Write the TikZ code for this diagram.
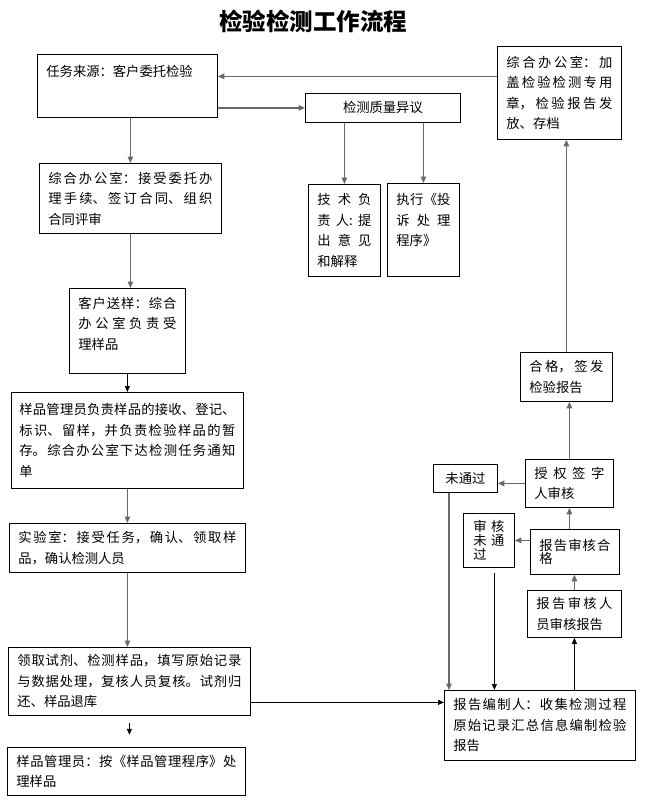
\documentclass[tikz,border=0pt]{standalone}
\usepackage{fontspec}
\setmainfont{Noto Sans CJK SC}
\usetikzlibrary{arrows.meta}
\XeTeXlinebreaklocale "zh"
\XeTeXlinebreakskip=0pt plus 1fil
\definecolor{linegray}{RGB}{105,105,105}
\tikzset{
  flowbox/.style={draw, line width=0.8pt, anchor=north west, inner xsep=9pt, inner ysep=0pt,
    align=justify, font=\fontsize{13.3}{20.5}\selectfont},
  tightbox/.style={flowbox, font=\fontsize{13.3}{13.8}\selectfont},
  arr/.style={draw=linegray, line width=1.3pt, -{Triangle[length=6.5pt,width=5.5pt]}},
  thinarr/.style={draw=black, line width=0.7pt, -{Triangle[length=6pt,width=5pt]}}
}
\newcommand{\toptext}[3]{\vbox to #1{\vskip #2\noindent #3\vfil}}
\newcommand{\ragend}{\hfill\mbox{}}

\begin{document}
\begin{tikzpicture}[x=1pt,y=-1pt]
   \useasboundingbox (0,0) rectangle (653,808);
   \node[font=\fontsize{23.5}{26}\selectfont\bfseries] (title) at (313,21) {检验检测工作流程};

   % left column
   \node[flowbox, minimum width=180pt, minimum height=63pt, text width=162pt] (src) at (37,54)
     {\toptext{63pt}{11pt}{任务来源：客户委托检验\ragend}};
   \node[flowbox, minimum width=182pt, minimum height=70pt, text width=164pt] (accept) at (39,163)
     {综合办公室：接受委托办\linebreak 理手续、签订合同、组织\linebreak 合同评审\ragend};
   \node[flowbox, minimum width=116pt, minimum height=85pt, text width=98pt] (sample) at (69,288)
     {\toptext{85pt}{8.5pt}{客户送样：综合\linebreak 办公室负责受\linebreak 理样品\ragend}};
   \node[flowbox, inner xsep=8pt, minimum width=232pt, minimum height=96pt, text width=216pt] (store) at (11,392)
     {样品管理员负责样品的接收、登记、\linebreak 标识、留样，并负责检验样品的暂\linebreak 存。综合办公室下达检测任务通知\linebreak 单\ragend};
   \node[flowbox, minimum width=236pt, minimum height=49pt, text width=218pt] (lab) at (9,523)
     {实验室：接受任务，确认、领取样\linebreak 品，确认检测人员\ragend};
   \node[flowbox, minimum width=242pt, minimum height=68pt, text width=224pt] (reagent) at (8,647)
     {领取试剂、检测样品，填写原始记录\linebreak 与数据处理，复核人员复核。试剂归\linebreak 还、样品退库\ragend};
   \node[flowbox, minimum width=238pt, minimum height=48pt, text width=220pt] (manage) at (7,747)
     {样品管理员：按《样品管理程序》处\linebreak 理样品\ragend};

   % middle
   \node[flowbox, align=center, minimum width=155pt, minimum height=29pt] (dispute) at (305,93) {检测质量异议};
   \node[flowbox, minimum width=72pt, minimum height=92pt, text width=54pt] (tech) at (308,184)
     {技术负\linebreak 责人:提\linebreak 出意见\linebreak 和解释\ragend};
   \node[flowbox, minimum width=72pt, minimum height=93pt, text width=54pt] (proc) at (387,183)
     {\toptext{93pt}{10pt}{执行《投\linebreak 诉处理\linebreak 程序》\ragend}};

   % right column
   \node[flowbox, minimum width=124pt, minimum height=93pt, text width=106pt] (archive) at (497,46)
     {综合办公室：加\linebreak 盖检验检测专用\linebreak 章，检验报告发\linebreak 放、存档\ragend};
   \node[flowbox, minimum width=92pt, minimum height=49pt, text width=74pt] (ok) at (520,352)
     {合格，签发\linebreak 检验报告\ragend};
   \node[flowbox, minimum width=88pt, minimum height=48pt, text width=70pt] (sign) at (525,459)
     {授权签字\linebreak 人审核\ragend};
   \node[flowbox, align=center, minimum width=64pt, minimum height=28pt] (fail2) at (433,464) {未通过};
   \node[tightbox, minimum width=89pt, minimum height=45pt, text width=71pt] (pass) at (530,529)
     {报告审核合\linebreak 格\ragend};
   \node[tightbox, inner xsep=10pt, minimum width=51pt, minimum height=54pt, text width=31pt] (fail1) at (463,513)
     {审核\linebreak 未通\linebreak 过\ragend};
   \node[flowbox, minimum width=94pt, minimum height=47pt, text width=76pt] (review) at (527,590)
     {报告审核人\linebreak 员审核报告\ragend};
   \node[flowbox, minimum width=191pt, minimum height=70pt, text width=173pt] (compile) at (444,690)
     {报告编制人：收集检测过程\linebreak 原始记录汇总信息编制检验\linebreak 报告\ragend};

   \coordinate (q1) at ([xshift=16pt]fail2.south west);
   \coordinate (o1) at ([xshift=5.5pt,yshift=-5pt]fail1.south);

   % connectors
   \draw[arr] ([yshift=16.5pt]archive.west) -- ([yshift=16.5pt]archive.west -| src.east);
   \draw[arr] (src.east |- dispute.west) -- (dispute.west);
   \draw[arr] (accept.north |- src.south) -- (accept.north);
   \draw[arr] (dispute.south -| tech.north) -- (tech.north);
   \draw[arr] (dispute.south -| proc.north) -- (proc.north);
   \draw[arr] (accept.south) -- (accept.south |- sample.north);
   \draw[thinarr] (sample.south) -- (store.north);
   \draw[arr] (store.south) -- (lab.north);
   \draw[arr] (lab.south) -- (lab.south |- reagent.north);
   \draw[thinarr] (reagent.south) ++(0,7) -- ++(0,12);
   \draw[thinarr] ([yshift=-21pt]reagent.east) -- ([yshift=-21pt]reagent.east -| compile.west);
   \draw[thinarr] (review.south |- compile.north) -- (review.south);
   \draw[arr] (review.north) -- (review.north |- pass.south);
   \draw[arr] (pass.west |- fail1.east) -- (fail1.east);
   \draw[arr] (sign.south |- pass.north) -- (sign.south);
   \draw[arr] (sign.west) -- (sign.west -| fail2.east);
   \draw[arr] (sign.north) -- (sign.north |- ok.south);
   \draw[arr] (ok.north) -- (ok.north |- archive.south);
   \draw[arr] (q1) -- (q1 |- compile.north);
   \draw[thinarr] (o1) -- (o1 |- compile.north);
\end{tikzpicture}
\end{document}
